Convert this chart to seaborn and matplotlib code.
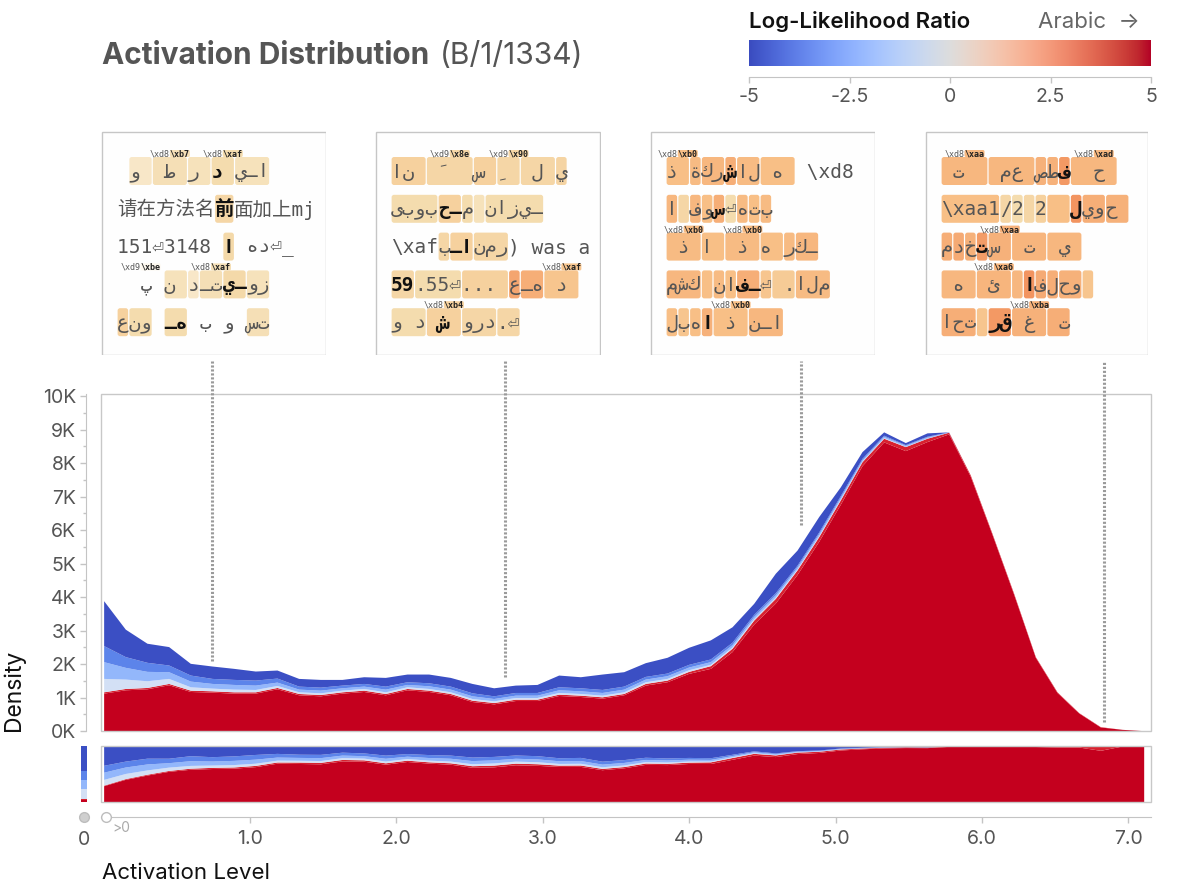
import matplotlib
matplotlib.use("Agg")
import numpy as np
import pandas as pd
import matplotlib.pyplot as plt
import seaborn as sns
from matplotlib.patches import Rectangle, FancyBboxPatch
from matplotlib.colors import LinearSegmentedColormap
from matplotlib.lines import Line2D
from matplotlib.ticker import MultipleLocator, FuncFormatter

# ---- data (density in thousands) ----
activation = [0.000, 0.148, 0.296, 0.444, 0.592, 0.740, 0.888, 1.036, 1.184, 1.332,
              1.480, 1.628, 1.776, 1.924, 2.072, 2.220, 2.368, 2.516, 2.664, 2.812,
              2.960, 3.108, 3.256, 3.404, 3.552, 3.700, 3.848, 3.996, 4.144, 4.292,
              4.440, 4.588, 4.736, 4.884, 5.032, 5.180, 5.328, 5.476, 5.624, 5.772,
              5.920, 6.068, 6.216, 6.364, 6.512, 6.660, 6.808, 6.956, 7.104]
total_k = [3.89, 3.04, 2.62, 2.52, 2.02, 1.94, 1.87, 1.79, 1.82, 1.57,
           1.54, 1.54, 1.62, 1.60, 1.70, 1.70, 1.60, 1.42, 1.29, 1.37,
           1.39, 1.67, 1.62, 1.70, 1.77, 2.04, 2.20, 2.50, 2.72, 3.11,
           3.81, 4.71, 5.40, 6.40, 7.29, 8.34, 8.93, 8.61, 8.90, 8.93,
           7.64, 5.90, 4.11, 2.22, 1.17, 0.55, 0.13, 0.05, 0.01]
red_k = [1.17, 1.27, 1.30, 1.42, 1.22, 1.20, 1.17, 1.17, 1.30, 1.12,
         1.09, 1.17, 1.22, 1.12, 1.27, 1.22, 1.12, 0.92, 0.85, 0.95,
         0.95, 1.10, 1.07, 1.02, 1.12, 1.42, 1.52, 1.78, 1.95, 2.47,
         3.31, 3.96, 4.81, 5.80, 6.90, 8.04, 8.74, 8.49, 8.74, 8.92,
         7.64, 5.90, 4.11, 2.22, 1.17, 0.55, 0.13, 0.05, 0.01]
red_edge_k = [0.04, 0.04, 0.04, 0.04, 0.04, 0.04, 0.04, 0.04, 0.04, 0.04,
              0.04, 0.04, 0.04, 0.04, 0.04, 0.04, 0.04, 0.04, 0.04, 0.04,
              0.04, 0.04, 0.04, 0.04, 0.04, 0.05, 0.05, 0.06, 0.08, 0.10,
              0.12, 0.14, 0.14, 0.14, 0.13, 0.12, 0.11, 0.12, 0.10, 0.05,
              0.04, 0.03, 0.03, 0.02, 0.02, 0.01, 0.01, 0.00, 0.00]
pale_k = [0.40, 0.28, 0.20, 0.15, 0.10, 0.08, 0.08, 0.07, 0.06, 0.05,
          0.05, 0.05, 0.05, 0.05, 0.05, 0.05, 0.05, 0.05, 0.05, 0.05,
          0.05, 0.05, 0.05, 0.05, 0.05, 0.05, 0.05, 0.05, 0.04, 0.04,
          0.04, 0.04, 0.03, 0.03, 0.03, 0.02, 0.02, 0.01, 0.01, 0.00,
          0.00, 0.00, 0.00, 0.00, 0.00, 0.00, 0.00, 0.00, 0.00]
light_k = [0.50, 0.35, 0.28, 0.20, 0.17, 0.14, 0.14, 0.13, 0.10, 0.08,
           0.08, 0.07, 0.07, 0.08, 0.07, 0.08, 0.08, 0.08, 0.07, 0.07,
           0.07, 0.08, 0.08, 0.08, 0.08, 0.08, 0.08, 0.08, 0.08, 0.07,
           0.07, 0.07, 0.06, 0.06, 0.05, 0.04, 0.04, 0.03, 0.03, 0.01,
           0.00, 0.00, 0.00, 0.00, 0.00, 0.00, 0.00, 0.00, 0.00]
mid_k = [0.48, 0.32, 0.27, 0.20, 0.18, 0.15, 0.15, 0.15, 0.12, 0.09,
         0.09, 0.08, 0.08, 0.09, 0.08, 0.09, 0.09, 0.09, 0.08, 0.08,
         0.08, 0.09, 0.09, 0.09, 0.09, 0.08, 0.08, 0.08, 0.08, 0.07,
         0.06, 0.06, 0.05, 0.05, 0.05, 0.04, 0.03, 0.02, 0.02, 0.00,
         0.00, 0.00, 0.00, 0.00, 0.00, 0.00, 0.00, 0.00, 0.00]

# LLR layers, top of the stack first
llr_levels = ["-5", "-3.5", "-2", "0", "3.5", "5"]
llr_colors = ["#3b4fc4", "#5c84ea", "#93b7fb", "#d3e0f5", "#d8212f", "#c4001e"]
zero_bin_shares = [0.44, 0.16, 0.16, 0.18, 0.02, 0.04]

cbar_ticks = [-5, -2.5, 0, 2.5, 5]
cbar_labels = ["-5", "-2.5", "0", "2.5", "5"]
x_ticks = [1, 2, 3, 4, 5, 6, 7]

# quantile samples shown in the boxes
sample_x = [0.74, 2.74, 4.76, 6.83]
sample_top = [2100, 1600, 6150, 270]

# token rows: (text, highlight strength, bold)
box1_rows = [
    [(" ", 0, False), ("و ", 0.15, False), (" ط ", 0.22, False), ("ر ", 0.2, False), ("د ", 0.25, True), ("يـا", 0.2, False)],
    [("请在方法名", 0, False), ("前", 0.3, True), ("面加上mj", 0, False)],
    [("151⏎3148 ", 0, False), ("ا", 0.28, True), (" هد⏎_", 0, False)],
    [("  پ ", 0, False), ("ن ", 0.2, False), ("د", 0.15, False), ("ـت", 0.22, False), ("يـ", 0.28, True), ("وز", 0.2, False)],
    [("ع", 0.35, False), ("نو", 0.25, False), (" ", 0, False), ("ـه", 0.25, True), (" ب", 0, False), (" و ", 0, False), ("ست", 0.22, False)],
]
box1_notes = [(0, 2, r"\xd8", r"\xb7"), (0, 4, r"\xd8", r"\xaf"), (3, 0, r"\xd9", r"\xbe"), (3, 3, r"\xd8", r"\xaf")]

box2_rows = [
    [("ان ", 0.35, False), (" َ  ", 0.3, False), ("س ", 0.35, False), ("ِ ", 0.3, False), (" ل ", 0.3, False), ("ي", 0.32, False)],
    [("ىبوب", 0.25, False), ("حـ", 0.35, True), ("م", 0.25, False), (" ", 0.2, False), ("نازيـ", 0.25, False)],
    [(r"\xaf", 0, False), ("ب", 0.3, False), ("ـا", 0.35, True), ("نمر", 0.3, False), (") was a", 0, False)],
    [("59", 0.3, True), (".55⏎", 0.25, False), ("... ", 0.35, False), ("ع", 0.65, False), ("ـه", 0.6, False), (" د ", 0.45, False)],
    [("و د", 0.25, False), (" ش ", 0.35, True), ("ورد", 0.3, False), (".⏎", 0.3, False)],
]
box2_notes = [(0, 1, r"\xd9", r"\x8e"), (0, 3, r"\xd9", r"\x90"), (3, 5, r"\xd8", r"\xaf"), (4, 1, r"\xd8", r"\xb4")]

box3_rows = [
    [("ذ ", 0.5, False), ("ة", 0.52, False), ("كر", 0.55, False), ("ش", 0.6, True), ("ال", 0.52, False), (" ه ", 0.5, False), (r" \xd8", 0, False)],
    [("ا", 0.55, False), (" ", 0.3, False), ("ف", 0.55, False), ("و", 0.5, False), ("س", 0.6, True), ("⏎", 0.25, False), ("ه", 0.52, False), ("ت", 0.5, False), ("ب", 0.52, False)],
    [(" ذ ", 0.52, False), ("ا ", 0.5, False), (" ذ ", 0.52, False), ("ه ", 0.5, False), ("ر", 0.52, False), ("كـ", 0.55, False)],
    [("مشك", 0.55, False), (" ", 0.5, False), ("ن", 0.52, False), ("ا", 0.5, False), ("فـ", 0.6, True), ("⏎", 0.45, False), (" .", 0.4, False), ("الم", 0.52, False)],
    [("ل", 0.5, False), ("ب", 0.45, False), ("ه", 0.5, False), ("ا", 0.58, True), (" ذ ", 0.5, False), ("نـا", 0.55, False)],
]
box3_notes = [(0, 0, r"\xd8", r"\xb0"), (2, 0, r"\xd8", r"\xb0"), (2, 2, r"\xd8", r"\xb0"), (4, 4, r"\xd8", r"\xb0")]

box4_rows = [
    [(" ت  ", 0.55, False), (" مع ", 0.55, False), ("ص", 0.58, False), ("ط", 0.58, False), ("ف", 0.72, True), ("  ح ", 0.55, False)],
    [(r"\xaa1", 0.5, False), ("/", 0.3, False), ("2", 0.25, False), (" ", 0.3, False), ("2", 0.35, False), ("  ", 0.5, False), ("ل", 0.75, True), ("يو", 0.6, False), ("ح ", 0.58, False)],
    [("م", 0.6, False), ("د", 0.62, False), ("خ", 0.58, False), ("ت", 0.7, True), ("س ", 0.58, False), (" ت ", 0.56, False), (" ي ", 0.55, False)],
    [(" ه ", 0.55, False), (" ئ ", 0.56, False), (" ", 0.55, False), ("ا", 0.75, True), ("ف", 0.62, False), ("ل", 0.6, False), ("حو", 0.58, False), (" ", 0.45, False)],
    [("احت", 0.6, False), (" ", 0.45, False), ("رق", 0.72, True), (" غ ", 0.58, False), (" ت", 0.6, False)],
]
box4_notes = [(0, 0, r"\xd8", r"\xaa"), (0, 5, r"\xd8", r"\xad"), (2, 4, r"\xd8", r"\xaa"), (3, 1, r"\xd8", r"\xa6"), (4, 3, r"\xd8", r"\xba")]

# ---- style ----
sns.set_style("white")
plt.rcParams["font.family"] = ["Inter", "DejaVu Sans"]
MONO = ["DejaVu Sans Mono", "DejaVu Sans", "Noto Sans CJK SC"]
GRID = "#c4c4c4"
LABEL = "#555555"
TICK_SIZE = 14

W, H = 1188, 891
fig = plt.figure(figsize=(W / 100, H / 100), dpi=100)
renderer = fig.canvas.get_renderer()


def px_rect(x0, y0, x1, y1):
    return [x0 / W, 1 - y1 / H, (x1 - x0) / W, (y1 - y0) / H]


# long-form table for seaborn
total = np.array(total_k)
red = np.array(red_k)
red_edge = np.array(red_edge_k)
pale = np.array(pale_k)
light = np.array(light_k)
mid = np.array(mid_k)
dark = np.maximum(total - red - pale - light - mid, 0)
layer_values = [dark, mid, light, pale, red_edge, red - red_edge]
df = pd.concat([
    pd.DataFrame({"activation": activation, "llr": lvl, "density": vals * 1000})
    for lvl, vals in zip(llr_levels, layer_values)
], ignore_index=True)
palette = dict(zip(llr_levels, llr_colors))
half = (activation[1] - activation[0]) / 2
edges = [a - half for a in activation] + [activation[-1] + half]
xlim = (-0.018, 7.154)

# ---- main stacked density ----
ax = fig.add_axes(px_rect(101, 394, 1151, 731))
sns.histplot(data=df, x="activation", weights="density", hue="llr",
             hue_order=llr_levels, palette=palette, multiple="stack",
             element="poly", bins=edges, linewidth=0, alpha=1,
             legend=False, ax=ax)
ax.set_xlim(*xlim)
ax.set_ylim(0, 10060)
ax.set_xlabel("")
ax.set_ylabel("")
ax.set_xticks([])
for side in ["top", "right", "bottom"]:
    ax.spines[side].set_visible(False)
ax.spines["left"].set_position(("outward", 10.8))
ax.spines["left"].set_color(GRID)
ax.yaxis.set_major_locator(MultipleLocator(1000))
ax.yaxis.set_minor_locator(MultipleLocator(500))
ax.yaxis.set_major_formatter(FuncFormatter(lambda v, p: f"{v / 1000:.0f}K"))
ax.tick_params(axis="y", which="major", left=True, length=4, width=1,
               color=GRID, labelsize=TICK_SIZE, labelcolor=LABEL, pad=3)
ax.tick_params(axis="y", which="minor", left=True, length=2.5, width=1, color=GRID)
ax.add_patch(Rectangle((0, 0), 1, 1, transform=ax.transAxes, fill=False,
                       ec="#c8c8c8", lw=1, clip_on=False, zorder=10))

# ---- normalised strip ----
sx = fig.add_axes(px_rect(101, 746, 1151, 802))
sns.histplot(data=df, x="activation", weights="density", hue="llr",
             hue_order=llr_levels, palette=palette, multiple="fill",
             element="poly", bins=edges, linewidth=0, alpha=1,
             legend=False, ax=sx)
sx.set_xlim(*xlim)
sx.set_ylim(0, 1)
sx.set_xlabel("")
sx.set_ylabel("")
sx.set_yticks([])
for side in ["top", "right", "left"]:
    sx.spines[side].set_visible(False)
sx.spines["bottom"].set_position(("outward", 10.8))
sx.spines["bottom"].set_color(GRID)
sx.set_xticks(x_ticks)
sx.set_xticklabels([f"{t:.1f}" for t in x_ticks])
sx.tick_params(axis="x", bottom=True, length=4, width=1, color=GRID,
               labelsize=TICK_SIZE, labelcolor=LABEL, pad=5)
sx.add_patch(Rectangle((0, 0), 1, 1, transform=sx.transAxes, fill=False,
                       ec="#c8c8c8", lw=1, clip_on=False, zorder=10))

# zero-activation mini bar
zx = fig.add_axes(px_rect(81, 746, 87, 802))
bottom = 0
for lvl, share in list(zip(llr_levels, zero_bin_shares))[::-1]:
    zx.bar(0, share, bottom=bottom, width=1, color=palette[lvl], linewidth=0)
    bottom += share
zx.set_xlim(-0.5, 0.5)
zx.set_ylim(0, 1)
zx.axis("off")

fig.add_artist(Line2D([84 / W], [1 - 817 / H], marker="o", ms=7, mfc="#cfcfcf",
                      mec="#bdbdbd", transform=fig.transFigure))
fig.add_artist(Line2D([106 / W], [1 - 817 / H], marker="o", ms=7, mfc="white",
                      mec="#bdbdbd", transform=fig.transFigure))
fig.text(112 / W, 1 - 828 / H, ">0", fontsize=10, color="#aaaaaa", va="center")
fig.text(84 / W, 1 - 840 / H, "0", fontsize=TICK_SIZE, color=LABEL, ha="center", va="center")

fig.text(102 / W, 1 - 873 / H, "Activation Level", fontsize=16, color="#111", va="center")
fig.text(14 / W, 1 - 731 / H, "Density", fontsize=16.5, color="#111", rotation=90,
         ha="center", va="bottom")

# ---- title + colour legend ----
title = fig.text(102 / W, 1 - 56 / H, "Activation Distribution", fontsize=21.5,
                 weight="bold", color="#555", va="center")
title_end = title.get_window_extent(renderer).x1
fig.text((title_end + 11) / W, 1 - 56 / H, "(B/1/1334)", fontsize=21.5, color="#555",
         va="center")

cx = fig.add_axes(px_rect(749, 40, 1151, 66))
cx.imshow(np.linspace(-5, 5, 256)[None, :], cmap="coolwarm", aspect="auto",
          extent=(-5, 5, 0, 1), vmin=-5, vmax=5)
for side in ["top", "right", "left"]:
    cx.spines[side].set_visible(False)
cx.spines["bottom"].set_position(("outward", 7.9))
cx.spines["bottom"].set_color(GRID)
cx.set_yticks([])
cx.set_xticks(cbar_ticks)
cx.set_xticklabels(cbar_labels)
cx.tick_params(axis="x", bottom=True, length=4, width=1, color=GRID,
               labelsize=TICK_SIZE, labelcolor=LABEL, pad=4)
fig.text(749 / W, 1 - 22 / H, "Log-Likelihood Ratio", fontsize=16, weight="semibold",
         color="#111", va="center")
fig.text(1140 / W, 1 - 22 / H, "Arabic  \u2192", fontsize=16, color="#666", ha="right",
         va="center")

# ---- example boxes ----
hl_cmap = LinearSegmentedColormap.from_list(
    "hl", ["#fdf8ee", "#f4dcae", "#f8bf86", "#f29460", "#e86a40"])


def text_width(bx, s, size, weight):
    probe = bx.text(0, 0, s.replace(" ", "0"), fontsize=size, family=MONO, weight=weight)
    w = probe.get_window_extent(renderer).width
    probe.remove()
    return w


def draw_box(rect, rows, notes):
    x0, y0, x1, y1 = rect
    w, h = x1 - x0, y1 - y0
    bx = fig.add_axes(px_rect(*rect))
    bx.set_xlim(0, w)
    bx.set_ylim(h, 0)
    bx.axis("off")
    bx.add_patch(Rectangle((0.5, 0.5), w - 1, h - 1, fc="#fefefe", ec="#c6c6c6", lw=1))
    for r, row in enumerate(rows):
        top = 26 + 37.8 * r
        x = 16
        spans = []
        for token, shade, bold in row:
            weight = "bold" if bold else "normal"
            tw = text_width(bx, token, 14, weight)
            if shade > 0:
                bx.add_patch(FancyBboxPatch((x + 0.6, top), tw - 1.2, 28,
                                            boxstyle="round,pad=0,rounding_size=2.5",
                                            fc=hl_cmap(shade), ec="none", zorder=1))
            bx.text(x, top + 15, token, fontsize=14, family=MONO, weight=weight,
                    color="#111" if bold else LABEL, va="center", ha="left", zorder=3)
            spans.append((x, tw, shade))
            x += tw
        bx.plot([14, w - 10], [top + 31.5, top + 31.5], color="#ececec", lw=1, zorder=0)
        note_end = 0
        for nr, idx, head, tail in notes:
            if nr != r:
                continue
            tx, tw, shade = spans[idx]
            hw = text_width(bx, head, 6, "normal")
            tlw = text_width(bx, tail, 6, "bold")
            left = max(tx + tw / 2 - (hw + tlw) / 2, note_end + 3, 2)
            note_end = left + hw + tlw
            bx.add_patch(FancyBboxPatch((left + hw, top - 7), tlw, 7,
                                        boxstyle="round,pad=0,rounding_size=1.5",
                                        fc=hl_cmap(shade), ec="none", zorder=1))
            bx.text(left, top - 3, head, fontsize=6, family=MONO, color=LABEL,
                    va="center", zorder=3)
            bx.text(left + hw, top - 3, tail, fontsize=6, family=MONO, color="#222",
                    weight="bold", va="center", zorder=3)


draw_box((101, 131, 326, 355), box1_rows, box1_notes)
draw_box((375, 131, 601, 355), box2_rows, box2_notes)
draw_box((650, 131, 875, 355), box3_rows, box3_notes)
draw_box((925, 131, 1148, 355), box4_rows, box4_notes)

# dotted leaders from the boxes down to the curve
to_fig = fig.transFigure.inverted()
for xv, yv in zip(sample_x, sample_top):
    fx, fy = to_fig.transform(ax.transData.transform((xv, yv)))
    fig.add_artist(Line2D([fx, fx], [fy, 1 - 361 / H], transform=fig.transFigure,
                          color="#9a9a9a", lw=2.2, linestyle=(0, (0.7, 0.6)),
                          solid_capstyle="butt", dash_capstyle="butt"))

fig.savefig("out.png", dpi=100)
